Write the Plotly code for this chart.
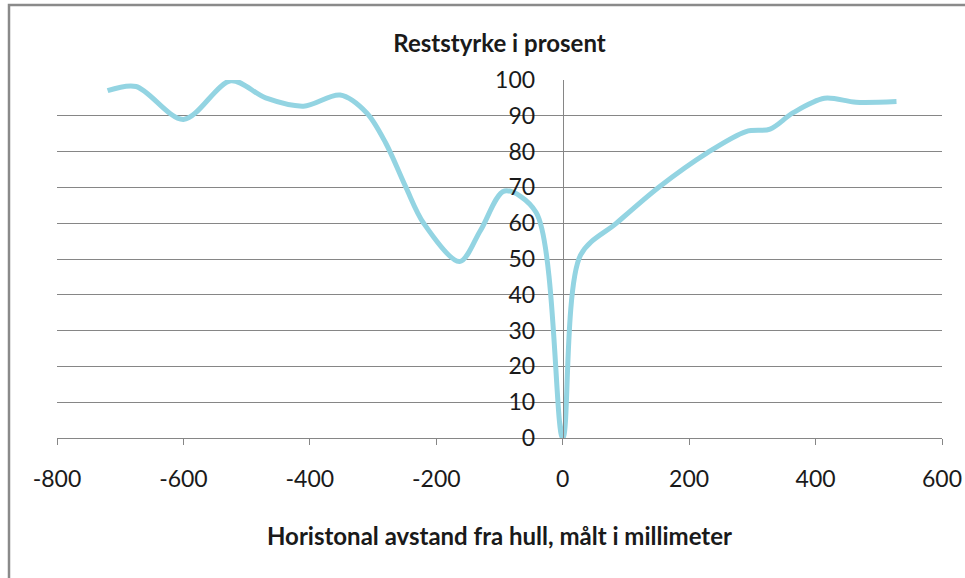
import plotly.graph_objects as go

# Data
avstand_mm = [-720, -675, -600, -525, -470, -410, -352, -310, -280, -248, -220, -163,
              -130, -92, -42, 0, 28, 85, 153, 228, 290, 328, 364, 414, 464, 528]
reststyrke = [97, 98.2, 89, 99.8, 95, 92.7, 95.8, 90.8, 82.4, 70, 60, 49.3,
              58, 69, 63, 0, 51, 60, 70.2, 79.6, 85.6, 86.3, 90.8, 94.9, 93.8, 94]

x_ticks = [-800, -600, -400, -200, 0, 200, 400, 600]
y_ticks = [0, 10, 20, 30, 40, 50, 60, 70, 80, 90, 100]

title_text = "Reststyrke i prosent"
x_title = "Horistonal avstand fra hull, målt i millimeter"

GRID = "#868686"
LINE = "#93D4E2"
FONT = "Lato, 'Open Sans', sans-serif"

fig = go.Figure()
fig.add_trace(go.Scatter(
    x=avstand_mm, y=reststyrke, mode="lines",
    line=dict(color=LINE, width=5, shape="spline", smoothing=0.9),
    showlegend=False, hoverinfo="x+y",
))

W, H = 965, 578
L, T = 57, 80
R = W - 942
B = H - 438
pw = W - L - R
ph = H - T - B
xmin, xmax = -800, 600
ypos = (0 - xmin) / (xmax - xmin)


def px_to_py(py):
    return (438 - py) / ph


def px_to_px(px):
    return (px - 57) / pw


fig.update_layout(
    width=W, height=H,
    margin=dict(l=L, r=R, t=T, b=B, autoexpand=False),
    paper_bgcolor="white", plot_bgcolor="white",
    font=dict(family=FONT, color="#1a1a1a", size=23),
    title=dict(text="<b>" + title_text + "</b>", x=0.5, xref="paper",
               y=1 - 44 / H, yref="container", yanchor="middle", xanchor="center",
               font=dict(size=24, family=FONT, color="#1a1a1a")),
    xaxis=dict(range=[xmin, xmax], tickvals=x_ticks, ticktext=[str(v) for v in x_ticks],
               showgrid=False, zeroline=False, showline=True, linecolor=GRID, linewidth=1,
               ticks="outside", ticklen=6, tickcolor=GRID, tickwidth=1, automargin=False,
               ticklabelstandoff=14, tickfont=dict(size=23)),
    yaxis=dict(range=[0, 100], tickvals=y_ticks, ticktext=[str(v) for v in y_ticks],
               showgrid=True, gridcolor=GRID, gridwidth=1, zeroline=False,
               showline=True, linecolor=GRID, linewidth=1, automargin=False,
               anchor="free", position=ypos, ticks="", ticklabelstandoff=23,
               tickfont=dict(size=23)),
    annotations=[dict(text="<b>" + x_title + "</b>", xref="paper", yref="paper",
                      x=px_to_px(499), y=px_to_py(535), xanchor="center", yanchor="middle",
                      showarrow=False, font=dict(size=24, family=FONT, color="#1a1a1a"))],
    shapes=[dict(type="rect", xref="paper", yref="paper",
                 x0=px_to_px(9), x1=px_to_px(990),
                 y0=px_to_py(620), y1=px_to_py(5),
                 line=dict(color="#8a8a8a", width=2.5), fillcolor="rgba(0,0,0,0)", layer="below")],
)

fig.write_html(
    "out.html",
    config={"displayModeBar": False},
    post_script="document.body.style.margin='0';document.body.style.overflow='hidden';",
)
